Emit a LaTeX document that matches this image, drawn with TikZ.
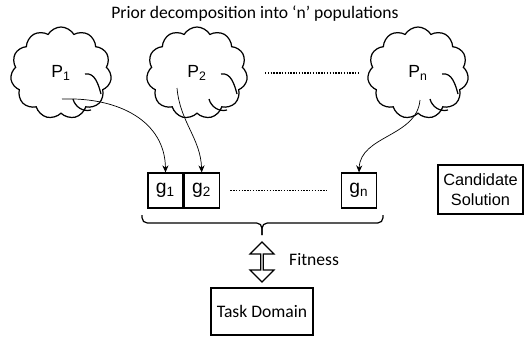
\documentclass[tikz,border=0pt]{standalone}
\usepackage{fontspec}
\setmainfont{Carlito}
\newfontfamily\arialfont{Liberation Sans}
\usetikzlibrary{shapes.symbols, shapes.arrows, arrows.meta, positioning, calc}

\tikzset{
  pop/.style={cloud, cloud puffs=11, cloud puff arc=120, aspect=1.1, draw, line width=0.7pt, minimum width=2.02cm, minimum height=1.84cm, inner sep=0pt, font=\arialfont\fontsize{10}{11}\selectfont},
  gene/.style={draw, line width=0.7pt, minimum width=0.70cm, minimum height=0.70cm, inner sep=0pt, font=\arialfont\fontsize{11}{12}\selectfont},
  link/.style={->, >={Stealth[length=4pt, width=3.5pt]}},
  gap/.style={line width=0.9pt, dash pattern=on 0.8pt off 0.8pt},
}
% inner fold lines of a cloud
\newcommand{\cloudfolds}[1]{%
  \draw[line width=0.7pt] ($(#1)+(0.48,-0.02)$) to[out=10, in=105] ($(#1)+(0.80,-0.42)$);
  \draw[line width=0.7pt] ($(#1)+(0.24,-0.52)$) to[out=-75, in=195] ($(#1)+(0.60,-0.74)$);
}

\begin{document}
\begin{tikzpicture}[font=\fontsize{10}{11}\selectfont]
\useasboundingbox (0,0) rectangle (10.48,6.74);

% populations
\node at (5.10,6.46) (title) {Prior decomposition into `n' populations};
\node[pop] (p1) at (1.22,5.28) {P\textsubscript{1}};
\node[pop] (p2) at (3.94,5.28) {P\textsubscript{2}};
\node[pop] (pn) at (8.36,5.28) {P\textsubscript{n}};
\cloudfolds{p1}
\cloudfolds{p2}
\cloudfolds{pn}
\draw[gap, shorten <=0.36cm, shorten >=0.16cm] (p2.east) -- (p2.east -| pn.west);

% genes of the candidate
\node[gene] (g1) at (3.31,2.93) {g\textsubscript{1}};
\node[gene, right=0pt of g1] (g2) {g\textsubscript{2}};
\node[gene] (gn) at (7.18,2.93) {g\textsubscript{n}};
\draw[gap, shorten <=0.21cm, shorten >=0.25cm] (g2.east) -- (gn.west);
\node[draw, line width=0.7pt, align=center, minimum width=1.70cm, minimum height=0.98cm, inner sep=0pt, font=\arialfont\fontsize{9.3}{11.5}\selectfont] (cand) at (9.61,2.95) {Candidate\\Solution};

% sampling arrows
\coordinate (p1 out) at ($(p1)+(0.02,-0.52)$);
\coordinate (p2 out) at ($(p2)+(-0.40,-0.30)$);
\coordinate (pn out) at ($(pn)+(0.04,-0.54)$);
\draw[link] (p1 out) .. controls (2.4,4.8) and (3.3,4.3) .. (g1.north);
\draw[link] (p2 out) to[out=-85, in=92] (g2.north);
\draw[link] (pn out) to[out=-95, in=88] (gn.north);

% brace under the genes
\coordinate (brace tip) at (5.24,2.04);
\draw[line width=0.7pt, rounded corners=3pt] (2.84,2.44) -- (2.84,2.28) -- (brace tip |- 0,2.28) -- (brace tip);
\draw[line width=0.7pt, rounded corners=3pt] (7.66,2.44) -- (7.66,2.28) -- (brace tip |- 0,2.28) -- (brace tip);

% evaluation
\node[draw, line width=0.7pt, fill=white, double arrow, rotate=90, minimum height=0.80cm, minimum width=0.48cm, double arrow head extend=0.11cm, inner sep=0pt] (fit) at (5.24,1.50) {};
\node[anchor=west] (fitlabel) at (5.66,1.54) {Fitness};
\node[draw, line width=0.7pt, minimum width=2.04cm, minimum height=0.94cm] (task) at (5.24,0.51) {Task Domain};
\end{tikzpicture}
\end{document}
